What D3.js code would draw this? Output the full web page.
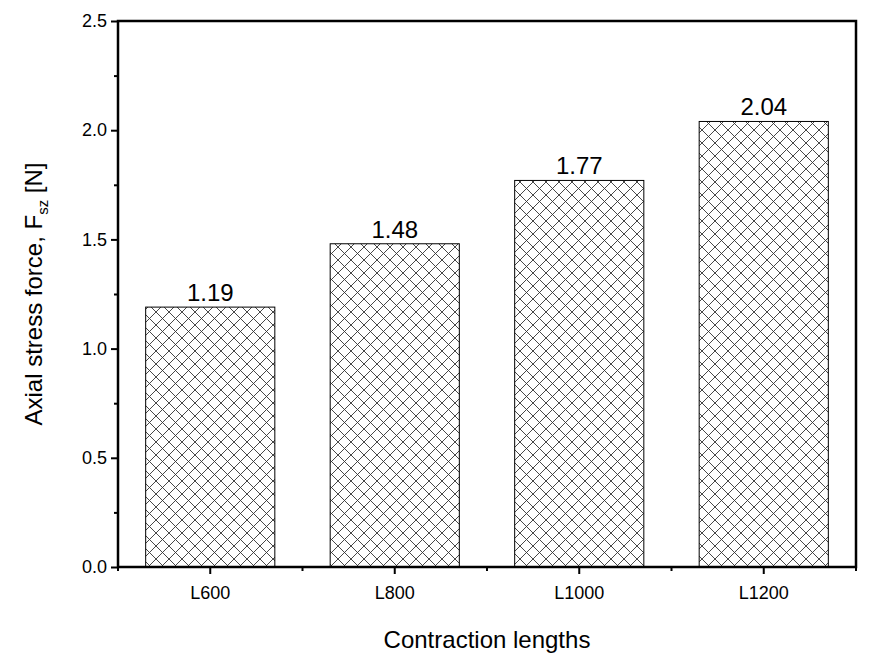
<!DOCTYPE html>
<html><head><meta charset="utf-8">
<script src="https://cdn.jsdelivr.net/npm/d3@7"></script>
<style>body{margin:0;background:#fff}text{font-family:Arial,"Liberation Sans",sans-serif}</style>
</head><body>
<svg id="c" width="874" height="666"></svg>
<script>
const categories = ["L600","L800","L1000","L1200"];
const values = [1.19,1.48,1.77,2.04];
const valueLabels = ["1.19","1.48","1.77","2.04"];
const yTicks = [0,0.5,1.0,1.5,2.0,2.5];

const svg = d3.select("#c");
const L=118,R=856,T=21,B=567;
const x = d3.scaleBand().domain(categories).range([L,R]).paddingInner(0.3).paddingOuter(0.15);
const y = d3.scaleLinear().domain([0,2.5]).range([B,T]);

const defs = svg.append("defs");
const s=13;
const p = defs.append("pattern").attr("id","hatch").attr("patternUnits","userSpaceOnUse")
  .attr("width",s).attr("height",s);
p.append("rect").attr("width",s).attr("height",s).attr("fill","#fff");
p.append("path").attr("d",`M0,0L${s},${s}M${-s/2},${s/2}L${s/2},${1.5*s}M${s/2},${-s/2}L${1.5*s},${s/2}M0,${s}L${s},0M${-s/2},${s/2}L${s/2},${-s/2}M${s/2},${1.5*s}L${1.5*s},${s/2}`)
  .attr("stroke","#333").attr("stroke-width",0.9);

svg.selectAll("rect.bar").data(values).enter().append("rect").attr("class","bar")
  .attr("x",(d,i)=>x(categories[i])).attr("width",x.bandwidth())
  .attr("y",d=>y(d)).attr("height",d=>B-y(d))
  .attr("fill","url(#hatch)").attr("stroke","#000").attr("stroke-width",1);

svg.selectAll("text.val").data(values).enter().append("text")
  .attr("x",(d,i)=>x(categories[i])+x.bandwidth()/2).attr("y",d=>y(d)-6)
  .attr("text-anchor","middle").attr("font-size",24).text((d,i)=>valueLabels[i]);

svg.append("rect").attr("x",L).attr("y",T).attr("width",R-L).attr("height",B-T)
  .attr("fill","none").attr("stroke","#000").attr("stroke-width",2.5);

const ya = svg.append("g").attr("transform",`translate(${L},0)`)
  .call(d3.axisLeft(y).tickValues(yTicks).tickFormat(d3.format(".1f")).tickSize(7).tickPadding(4));
ya.append("g").call(d3.axisLeft(y).tickValues(d3.range(0.25,2.5,0.5)).tickSize(4).tickFormat(""));
const xa = svg.append("g").attr("transform",`translate(0,${B})`)
  .call(d3.axisBottom(x).tickSize(7).tickPadding(12));
const edges = categories.map((c,i)=>x(c)-x.step()*0.15).concat([R]);
xa.selectAll("line.minor").data(edges).enter().append("line").attr("class","minor")
  .attr("x1",d=>d).attr("x2",d=>d).attr("y1",0).attr("y2",4).attr("stroke","#000").attr("stroke-width",2);
[ya,xa].forEach(g=>{
  g.attr("font-size",18).attr("font-family","Arial, 'Liberation Sans', sans-serif");
  g.selectAll("g").attr("font-size",18);
  g.selectAll("line").attr("stroke-width",2);
  g.selectAll("text").style("font-size","18px").attr("fill","#000");
  g.selectAll(".domain").remove();});

svg.append("text").attr("x",(L+R)/2).attr("y",648).attr("text-anchor","middle")
  .attr("font-size",24).text("Contraction lengths");
const yl = svg.append("text").attr("transform",`translate(42,${(T+B)/2}) rotate(-90)`)
  .attr("text-anchor","middle").attr("font-size",24);
yl.append("tspan").text("Axial stress force, F");
yl.append("tspan").attr("font-size",15).attr("dy",6).text("sz");
yl.append("tspan").attr("dy",-6).text(" [N]");
</script>
</body></html>
